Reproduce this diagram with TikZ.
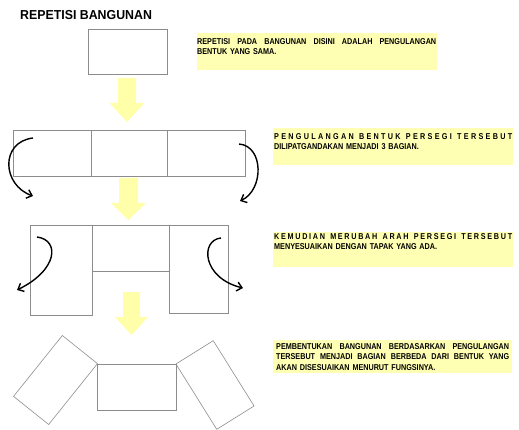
\documentclass[tikz,border=0pt]{standalone}
\usepackage{fontspec}
\usetikzlibrary{arrows.meta}

\newfontfamily\titlefam[FakeStretch=0.95]{Liberation Sans}
\newfontfamily\notefam[FakeStretch=0.85]{Liberation Sans}
\definecolor{boxgray}{RGB}{140,140,140}
\definecolor{noteyellow}{RGB}{255,255,180}
\definecolor{dropyellow}{RGB}{255,255,170}

\newcommand\fullline[2]{\makebox[#1][s]{\spaceskip=0.25em plus 1fil\relax #2}}
% width, letter spacing, text
\newcommand\spacedline[3]{\makebox[#1][s]{\addfontfeatures{LetterSpace=#2}\spaceskip=0.3em plus 1fil\relax #3}}
% big yellow down arrow: centre x, top, neck, tip, half shaft, half head
\newcommand\yellowdrop[6]{\fill[dropyellow] (#1-#5,#2) -- (#1+#5,#2) -- (#1+#5,#3) -- (#1+#6,#3) -- (#1,#4) -- (#1-#6,#3) -- (#1-#5,#3) -- cycle;}

\tikzset{
  plainbox/.style={shape=rectangle,draw=boxgray,line width=0.6pt,inner sep=0pt},
  notefill/.style={shape=rectangle,fill=noteyellow,inner sep=0pt,anchor=north west},
  notetext/.style={align=left,inner sep=0pt,anchor=north west,font=\notefam\bfseries\fontsize{8.5}{10.5}\selectfont},
  curvy/.style={-{Straight Barb[length=5pt,width=9pt]},draw=black,line width=1.4pt}
}

\begin{document}
\begin{tikzpicture}[x=1pt,y=-1pt]
\useasboundingbox (0,0) rectangle (519,430);

\node[anchor=base west,inner sep=0pt,font=\titlefam\bfseries\fontsize{13}{15}\selectfont] (title) at (20,20) {REPETISI BANGUNAN};

% shapes
\node[plainbox,anchor=north west,minimum width=79pt,minimum height=45pt] (r1) at (88,29) {};

\node[plainbox,anchor=north west,minimum width=78pt,minimum height=46pt] (r2a) at (13,130) {};
\node[plainbox,anchor=north west,minimum width=76pt,minimum height=46pt] (r2b) at (91,130) {};
\node[plainbox,anchor=north west,minimum width=78pt,minimum height=46pt] (r2c) at (167,130) {};

\node[plainbox,anchor=north west,minimum width=62pt,minimum height=90pt] (r3a) at (30,225) {};
\node[plainbox,anchor=north west,minimum width=77pt,minimum height=46pt] (r3b) at (92,225) {};
\node[plainbox,anchor=north west,minimum width=59pt,minimum height=88pt] (r3c) at (169,225) {};

\node[plainbox,anchor=north west,minimum width=79pt,minimum height=46pt] (r4b) at (97,364) {};
\node[plainbox,minimum width=45pt,minimum height=78pt,rotate=-38.7] (r4a) at (55.5,380) {};
\node[plainbox,minimum width=44pt,minimum height=77pt,rotate=32] (r4c) at (215,385) {};

% yellow arrows
\yellowdrop{127}{78}{103}{122}{9}{17.5}
\yellowdrop{128.5}{178}{203}{220}{9.5}{17.5}
\yellowdrop{131.5}{292}{317}{335}{8.5}{16.5}

% turning arrows
\coordinate (a1s) at (33,138);
\coordinate (a1e) at (33,196);
\coordinate (a2s) at (239,144);
\coordinate (a2e) at (240,201);
\coordinate (a3s) at (37,237);
\coordinate (a3e) at (17,290);
\coordinate (a4s) at (221,238);
\coordinate (a4e) at (243,288);
\path [curvy] (a1s) .. controls (0,142) and (2,185) .. (a1e);
\path [curvy] (a2s) .. controls (264,146) and (264,190) .. (a2e);
\path [curvy] (a3s) .. controls (60,240) and (58,270) .. (a3e);
\path [curvy] (a4s) .. controls (200,240) and (202,278) .. (a4e);

% notes
\node[notefill,minimum width=240pt,minimum height=37pt] (n1) at (197,33) {};
\node[notetext,text width=239pt] (t1) at ([yshift=-5pt]n1.north west) {\fullline{239pt}{REPETISI PADA BANGUNAN DISINI ADALAH PENGULANGAN}\\BENTUK YANG SAMA.};

\node[notefill,minimum width=240pt,minimum height=37pt] (n2) at (273,128) {};
\node[notetext,text width=238pt] (t2) at ([xshift=1pt,yshift=-5pt]n2.north west) {\spacedline{238pt}{27}{PENGULANGAN BENTUK PERSEGI TERSEBUT}\\DILIPATGANDAKAN MENJADI 3 BAGIAN.};

\node[notefill,minimum width=240pt,minimum height=35pt] (n3) at (273,232) {};
\node[notetext,text width=238pt] (t3) at ([xshift=1pt,yshift=-1pt]n3.north west) {\spacedline{238pt}{20}{KEMUDIAN MERUBAH ARAH PERSEGI TERSEBUT}\\MENYESUAIKAN DENGAN TAPAK YANG ADA.};

\node[notefill,minimum width=239pt,minimum height=33pt] (n4) at (273,340) {};
\node[notetext,text width=233pt] (t4) at ([xshift=3pt,yshift=-3pt]n4.north west) {\fullline{233pt}{PEMBENTUKAN BANGUNAN BERDASARKAN PENGULANGAN}\\\fullline{233pt}{TERSEBUT MENJADI BAGIAN BERBEDA DARI BENTUK YANG}\\AKAN DISESUAIKAN MENURUT FUNGSINYA.};
\end{tikzpicture}
\end{document}
